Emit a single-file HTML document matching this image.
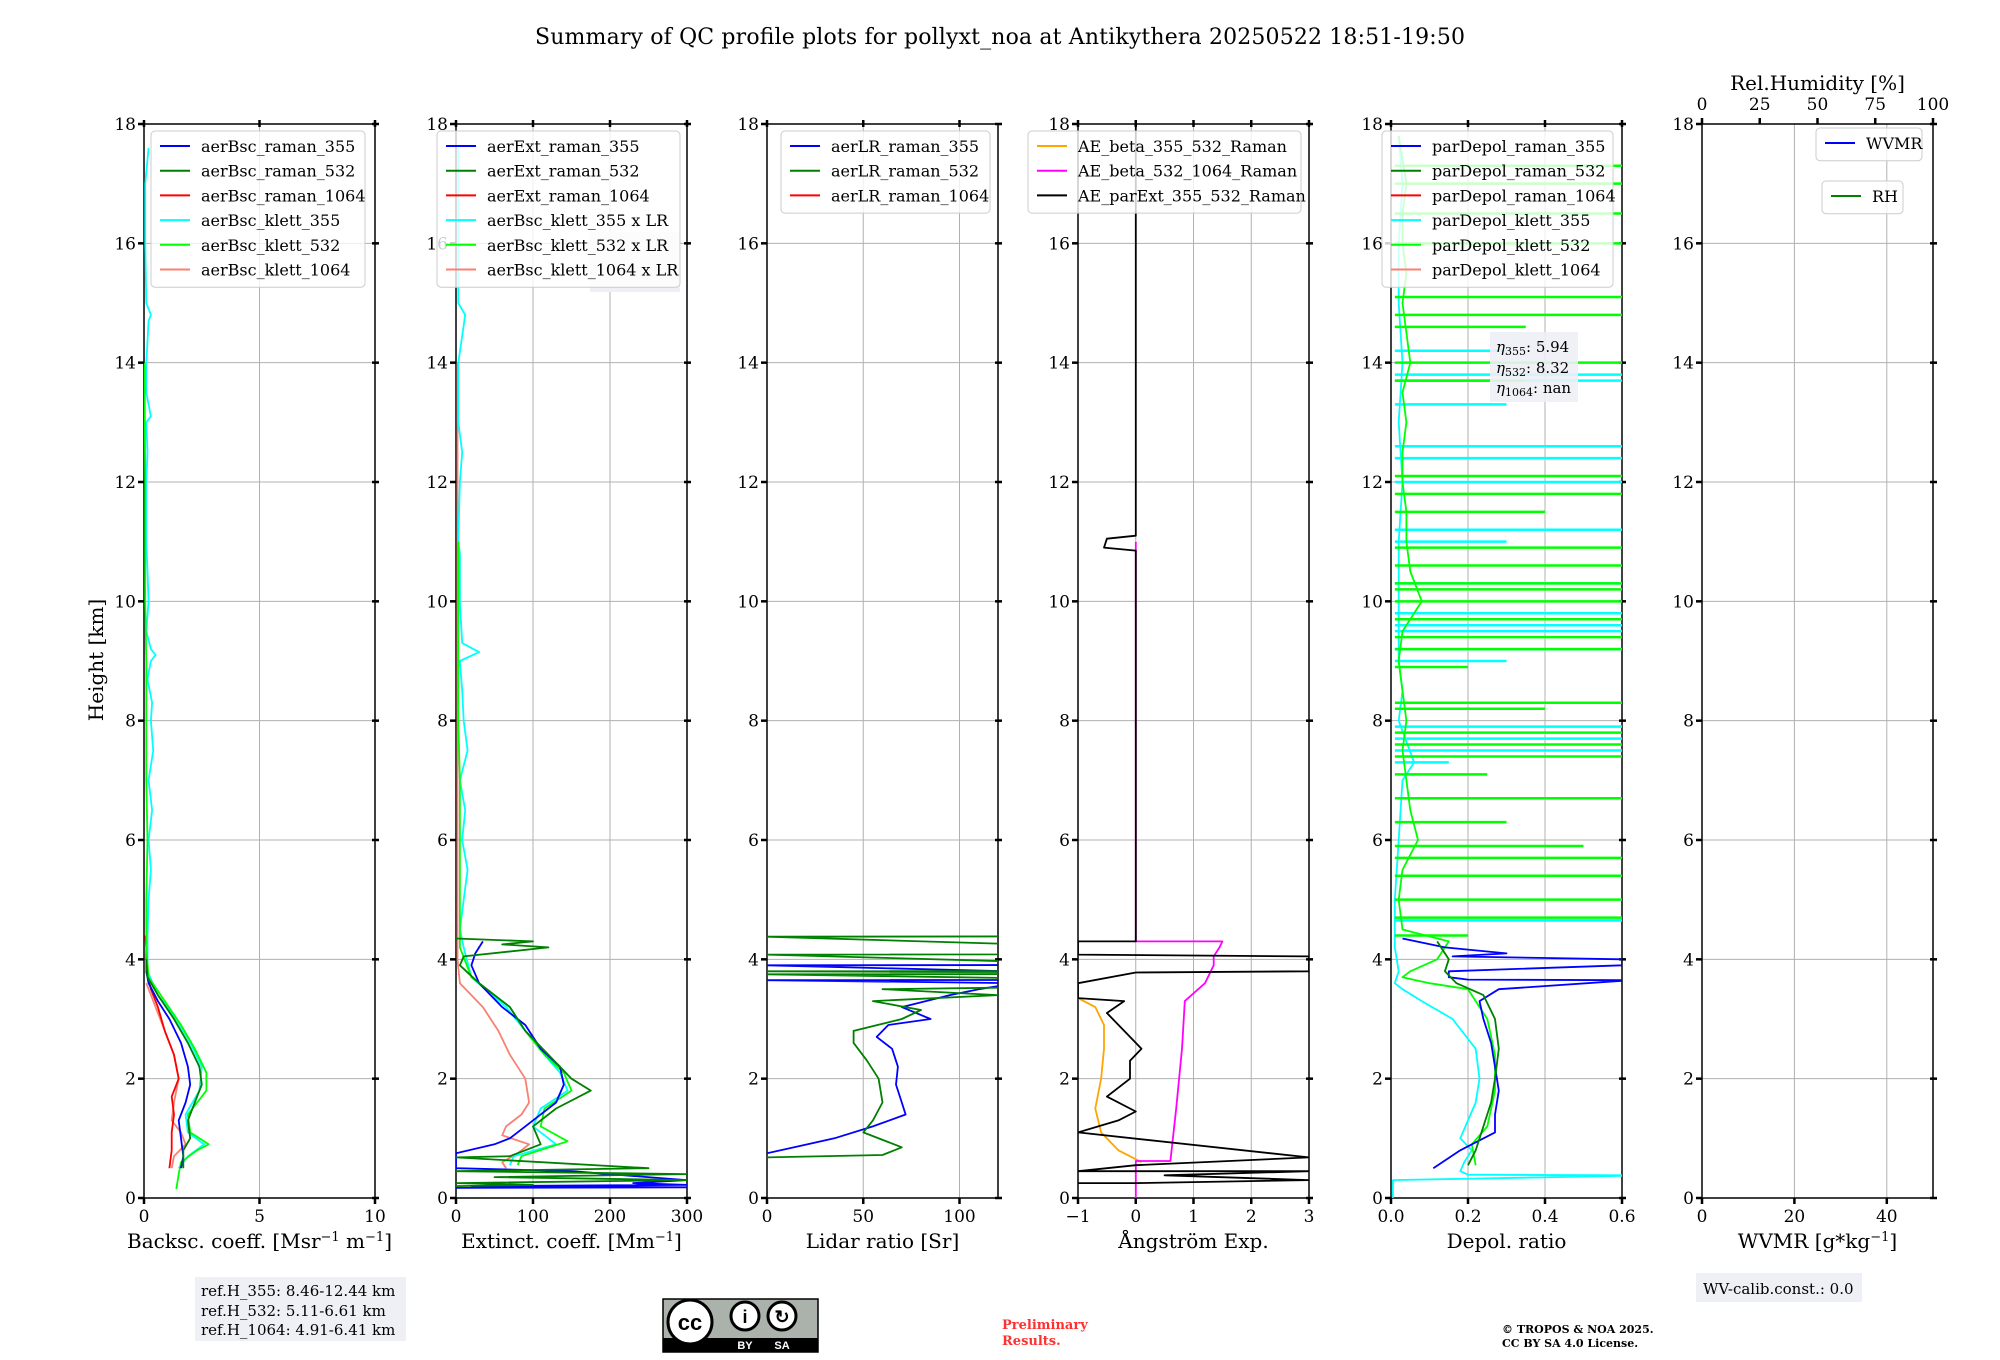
<!DOCTYPE html>
<html><head><meta charset="utf-8">
<style>
html,body{margin:0;padding:0;background:#fff;}
svg{display:block;font-family:"DejaVu Serif","Liberation Serif",serif;}
</style></head>
<body>
<svg id="fig" width="2000" height="1360" viewBox="0 0 2000 1360" xmlns="http://www.w3.org/2000/svg">
<text x="1000" y="44" text-anchor="middle" font-size="22" textLength="930">Summary of QC profile plots for pollyxt_noa at Antikythera 20250522 18:51-19:50</text>
<text transform="translate(103,660) rotate(-90)" text-anchor="middle" font-size="20">Height [km]</text>
<g id="panels"></g>
<rect x="195" y="1277" width="211" height="64" fill="#eef0f5"/>
<text font-size="15"><tspan x="201" y="1296">ref.H_355: 8.46-12.44 km</tspan><tspan x="201" y="1316">ref.H_532: 5.11-6.61 km</tspan><tspan x="201" y="1335">ref.H_1064: 4.91-6.41 km</tspan></text>
<g>
<rect x="663" y="1299" width="155" height="53" fill="#aab2ab" stroke="#000" stroke-width="1.5"/>
<rect x="663" y="1338" width="155" height="14" fill="#000"/>
<circle cx="690" cy="1322" r="22" fill="#fff" stroke="#000" stroke-width="3"/>
<text x="690" y="1330" text-anchor="middle" font-size="22" font-weight="bold" font-family="Liberation Sans,sans-serif">cc</text>
<circle cx="745" cy="1316" r="14" fill="#fff" stroke="#000" stroke-width="3"/>
<circle cx="782" cy="1316" r="14" fill="#fff" stroke="#000" stroke-width="3"/>
<text x="745" y="1323" text-anchor="middle" font-size="18" font-weight="bold" font-family="Liberation Sans,sans-serif">i</text>
<text x="782" y="1323" text-anchor="middle" font-size="18" font-weight="bold" font-family="Liberation Sans,sans-serif">↻</text>
<text x="745" y="1349" text-anchor="middle" font-size="11" fill="#fff" font-weight="bold" font-family="Liberation Sans,sans-serif">BY</text>
<text x="782" y="1349" text-anchor="middle" font-size="11" fill="#fff" font-weight="bold" font-family="Liberation Sans,sans-serif">SA</text>
</g>
<text font-size="13" font-weight="bold" fill="#ff3030"><tspan x="1002" y="1329">Preliminary</tspan><tspan x="1002" y="1345">Results.</tspan></text>
<text font-size="11" font-weight="bold"><tspan x="1502" y="1333">© TROPOS &amp; NOA 2025.</tspan><tspan x="1502" y="1347">CC BY SA 4.0 License.</tspan></text>
<rect x="1696" y="1273" width="166" height="29" fill="#eef0f5"/>
<text x="1703" y="1294" font-size="15">WV-calib.const.: 0.0</text>
</svg>
<script>
// ---------- data ----------
const bscR355H=[0.5,0.7,1.0,1.3,1.6,1.9,2.2,2.6,3.0,3.3,3.6,3.8];
const bscR355V=[1.6,1.7,1.6,1.5,1.8,2.0,1.9,1.6,1.1,0.6,0.2,0.1];
const bscR532H=[0.5,0.8,1.0,1.3,1.6,1.9,2.2,2.6,3.0,3.4,3.7,4.0];
const bscR532V=[1.7,1.7,2.0,1.9,2.2,2.5,2.4,1.9,1.3,0.6,0.15,0.1];
const bscR1064H=[0.5,0.8,1.1,1.4,1.7,2.0,2.4,2.8,3.2,3.5,3.8,4.2,4.4];
const bscR1064V=[1.1,1.2,1.2,1.3,1.2,1.5,1.3,0.9,0.6,0.3,0.1,0.1,0.05];
const bscK355H=[0.5,0.7,0.9,1.1,1.4,1.8,2.2,2.6,3.0,3.4,3.8,4.4,5,5.5,6,6.5,7,7.5,8,8.3,8.7,9.0,9.1,9.2,9.5,10,10.5,11,12,12.5,13,13.1,13.5,14,14.7,14.8,15,16,17,17.6];
const bscK355V=[1.5,1.9,2.6,1.9,1.8,2.4,2.5,2.0,1.4,0.6,0.15,0.15,0.2,0.3,0.2,0.35,0.2,0.4,0.3,0.35,0.15,0.3,0.5,0.3,0.1,0.2,0.15,0.1,0.1,0.15,0.1,0.3,0.1,0.1,0.2,0.3,0.1,0.05,0.05,0.2];
const bscK532H=[0.15,0.4,0.6,0.8,0.9,1.1,1.4,1.8,2.1,2.5,2.9,3.3,3.7,4.2,5,6,7,8,9,10,11,12,14];
const bscK532V=[1.4,1.5,1.6,2.3,2.8,2.0,1.9,2.7,2.7,2.2,1.6,0.9,0.2,0.1,0.1,0.15,0.1,0.1,0.1,0.05,0.05,0.05,0.02];
const bscK1064H=[0.5,0.7,0.9,1.1,1.3,1.6,2.0,2.4,2.8,3.2,3.6];
const bscK1064V=[1.2,1.3,1.8,1.6,1.2,1.3,1.5,1.3,0.9,0.5,0.1];
const extR355H=[0.17,0.18,0.2,0.22,0.25,0.3,0.45,0.5,0.6,0.75,0.9,1.0,1.3,1.6,1.9,2.2,2.5,2.9,3.2,3.6,3.9,4.1,4.3];
const extR355V=[0,300,20,300,230,300,150,0,0,0,50,70,100,130,140,135,110,90,60,30,20,25,35];
const extR532H=[0.2,0.22,0.25,0.3,0.35,0.4,0.45,0.5,0.68,0.7,0.9,1.2,1.5,1.8,2.0,2.4,2.8,3.2,3.6,3.9,4.05,4.2,4.25,4.3,4.35];
const extR532V=[0,100,0,300,50,300,0,250,0,70,110,100,130,175,150,120,90,70,30,5,10,120,60,100,0];
const extK355H=[0.55,0.7,0.9,1.2,1.5,1.8,2.1,2.4,2.8,3.2,3.7,4.2,4.5,5,5.5,6,6.5,7,7.5,8,8.5,9,9.15,9.3,10,10.8,11,12,12.5,13,14,14.8,15,17.6];
const extK355V=[70,75,130,100,110,145,135,115,90,65,20,10,5,10,15,8,12,5,15,10,8,5,30,8,5,5,3,5,8,3,3,12,3,3];
const extK532H=[0.55,0.7,0.95,1.2,1.5,1.8,2.1,2.4,2.8,3.2,3.7,4.2,5,6,7,8,9,10,11];
const extK532V=[80,85,145,110,115,150,140,115,90,70,20,5,5,5,5,3,3,3,3];
const extK1064H=[0.5,0.6,0.75,0.9,1.05,1.2,1.4,1.6,2.0,2.4,2.8,3.2,3.6,4.0,12,14];
const extK1064V=[65,60,80,95,60,65,85,95,90,70,55,35,5,2,2,2];
const lrR355H=[0.75,1.0,1.2,1.4,1.6,1.9,2.2,2.5,2.7,2.9,3.0,3.2,3.4,3.5,3.6,3.65,3.66,3.9,3.91];
const lrR355V=[0,35,55,72,70,67,68,65,57,63,85,70,95,110,130,0,300,0,300];
const lrR532H=[0.68,0.72,0.85,1.1,1.3,1.6,2.0,2.3,2.6,2.8,3.0,3.15,3.3,3.4,3.5,3.6,3.75,3.76,3.8,3.81,4.08,4.09,4.38,4.39];
const lrR532V=[0,60,70,50,55,60,58,52,45,45,70,80,55,120,60,300,0,300,0,300,0,300,0,300];
const aeB355H=[0.6,0.8,1.1,1.5,2.0,2.5,2.9,3.2,3.35];
const aeB355V=[0.1,-0.3,-0.6,-0.7,-0.6,-0.55,-0.55,-0.7,-1.0];
const aeB532H=[0.0,0.62,0.62,1.5,2.5,3.3,3.6,3.9,4.05,4.2,4.3,4.3,10.95,11.0];
const aeB532V=[0,0,0.6,0.7,0.8,0.85,1.2,1.35,1.35,1.45,1.5,0,0,0];
const aeParH=[0.25,0.25,0.3,0.38,0.45,0.45,0.55,0.68,1.1,1.3,1.45,1.7,2.0,2.3,2.5,2.8,3.1,3.3,3.35,3.6,3.78,3.8,4.05,4.08,4.3,4.3,10.85,10.9,11.05,11.1,18];
const aeParV=[-1,0,3,0.5,3,-1,0,3,-1,-0.3,0,-0.5,-0.1,-0.1,0.1,-0.2,-0.5,-0.2,-1,-1,0,3,3,-1,-1,0,0,-0.55,-0.5,0,0];
const dpR355H=[0.5,0.8,1.1,1.4,1.8,2.2,2.6,3.0,3.3,3.5,3.64,3.65,3.66,3.7,3.8,3.9,3.95,4.0,4.05,4.1,4.2,4.35];
const dpR355V=[0.11,0.18,0.27,0.27,0.28,0.27,0.26,0.24,0.23,0.28,0.6,0.6,0.2,0.15,0.15,0.6,0.6,0.6,0.16,0.3,0.14,0.03];
const dpR532H=[0.55,0.8,1.2,1.6,2.0,2.5,3.0,3.4,3.6,3.8,4.0,4.2,4.3];
const dpR532V=[0.2,0.22,0.24,0.26,0.27,0.28,0.27,0.24,0.17,0.14,0.15,0.13,0.12];
const dpK355H=[0,0.3,0.37,0.38,0.39,0.45,0.6,0.8,1.0,1.3,1.6,2.0,2.5,3.0,3.3,3.5,3.6,3.8,4.2,5,6,7,7.3,8,8.5,9,10,11,12,13,14,15,16,17,17.8];
const dpK355V=[0.005,0.005,0.6,0.6,0.2,0.18,0.19,0.21,0.18,0.2,0.22,0.23,0.22,0.16,0.08,0.03,0.01,0.02,0.01,0.01,0.02,0.03,0.06,0.02,0.03,0.02,0.02,0.02,0.03,0.02,0.03,0.02,0.02,0.03,0.02];
const dpK355SpikeH=[4.65,7.3,7.5,7.7,7.9,9.0,9.2,9.5,9.6,9.8,10.3,11.0,11.2,12.0,12.4,12.6,13.3,13.7,13.8,14.2];
const dpK355SpikeV=[0.6,0.15,0.6,0.6,0.6,0.3,0.6,0.6,0.6,0.6,0.6,0.3,0.6,0.6,0.6,0.6,0.3,0.6,0.6,0.3];
const dpK532H=[0.55,0.9,1.2,1.8,2.4,3.0,3.5,3.6,3.7,3.8,4.0,4.3,4.5,5,5.5,6,6.5,7,7.5,8,8.5,9,9.5,10,10.5,11,11.5,12,12.5,13,13.5,14,14.5,15,15.5,16,16.5,17,17.8];
const dpK532V=[0.22,0.21,0.25,0.27,0.27,0.25,0.2,0.1,0.03,0.05,0.12,0.15,0.03,0.02,0.03,0.07,0.05,0.04,0.03,0.04,0.03,0.02,0.03,0.08,0.05,0.04,0.04,0.03,0.03,0.04,0.03,0.05,0.04,0.03,0.04,0.03,0.03,0.04,0.02];
const dpK532SpikeH=[4.4,4.7,5.0,5.4,5.7,5.9,6.3,6.7,7.1,7.4,7.6,7.8,8.2,8.3,8.9,9.2,9.4,9.7,10.0,10.2,10.3,10.6,10.9,11.5,11.8,12.1,13.7,14.0,14.6,14.8,15.1,16.0,16.5,17.0,17.3];
const dpK532SpikeV=[0.2,0.6,0.6,0.6,0.6,0.5,0.3,0.6,0.25,0.6,0.6,0.6,0.4,0.6,0.2,0.6,0.6,0.6,0.6,0.6,0.6,0.6,0.6,0.4,0.6,0.6,0.35,0.6,0.35,0.6,0.6,0.6,0.6,0.6,0.6];
const yTicks=[0,2,4,6,8,10,12,14,16,18];
const p1Ticks=[0,5,10], p2Ticks=[0,100,200,300], p3Ticks=[0,50,100], p4Ticks=[-1,0,1,2,3], p5Ticks=[0,0.2,0.4,0.6], p6Ticks=[0,20,40], rhTicks=[0,25,50,75,100];
const p5TickLabels=["0.0","0.2","0.4","0.6"];

// ---------- drawing ----------
const NS="http://www.w3.org/2000/svg";
const Y0=1198, Y18=124;
function ys(h){return Y0-(h/18)*(Y0-Y18);}
const root=document.getElementById('panels');
function mk(tag,attrs,parent){const e=document.createElementNS(NS,tag);for(const k in attrs)e.setAttribute(k,attrs[k]);(parent||root).appendChild(e);return e;}
const panels=[
 {id:'p1',left:144,min:0,max:10,ticks:p1Ticks},
 {id:'p2',left:456,min:0,max:300,ticks:p2Ticks},
 {id:'p3',left:767,min:0,max:120,ticks:p3Ticks},
 {id:'p4',left:1078,min:-1,max:3,ticks:p4Ticks},
 {id:'p5',left:1391,min:0,max:0.6,ticks:p5Ticks},
 {id:'p6',left:1702,min:0,max:50,ticks:p6Ticks}
];
const W=231;
function xs(p,v){return p.left+(v-p.min)/(p.max-p.min)*W;}
function axes(p,xlabelFn,tickText){
  const g=mk('g',{});
  
  
  const cp=mk('clipPath',{id:'clip-'+p.id},g);
  mk('rect',{x:p.left,y:Y18,width:W,height:Y0-Y18},cp);
  yTicks.forEach(t=>{
    const y=ys(t);
    mk('line',{x1:p.left,x2:p.left+W,y1:y,y2:y,stroke:'#b0b0b0','stroke-width':1},g);
    mk('line',{x1:p.left-6,x2:p.left,y1:y,y2:y,stroke:'#000','stroke-width':2.5},g);
    mk('line',{x1:p.left+W-3,x2:p.left+W+4,y1:y,y2:y,stroke:'#000','stroke-width':2.5},g);
    const tl=mk('text',{x:p.left-8,y:y+6,'text-anchor':'end','font-size':17},g);
    tl.textContent=String(t);
    
    
  });
  p.ticks.forEach((t,i)=>{
    const x=xs(p,t);
    mk('line',{x1:x,x2:x,y1:Y18,y2:Y0,stroke:'#b0b0b0','stroke-width':1},g);
    mk('line',{x1:x,x2:x,y1:Y0,y2:Y0+6,stroke:'#000','stroke-width':2.5},g);
    if(p.id!=='p6')mk('line',{x1:x,x2:x,y1:Y18-4,y2:Y18+3,stroke:'#000','stroke-width':2.5},g);
    const tl=mk('text',{x:x,y:Y0+24,'text-anchor':'middle','font-size':17},g);
    tl.textContent=tickText?tickText[i]:String(t).replace('-','\u2212');
    
    
  });
  mk('rect',{x:p.left,y:Y18,width:W,height:Y0-Y18,fill:'none',stroke:'#000','stroke-width':1.5},g);
  xlabelFn(g);
  return g;
}
function series(p,H,V,color,name,width){
  const pts=H.map((h,i)=>xs(p,V[i]).toFixed(1)+','+ys(h).toFixed(1)).join(' ');
  const pl=mk('polyline',{points:pts,fill:'none',stroke:color,'stroke-width':width||1.8,'clip-path':'url(#clip-'+p.id+')','stroke-linejoin':'round'});
  
  
}
function spikes(p,H,V,color,name){
  H.forEach((h,i)=>{
    const y=ys(h);
    const l=mk('line',{x1:xs(p,0.01),x2:xs(p,V[i]),y1:y,y2:y,stroke:color,'stroke-width':2.5,'clip-path':'url(#clip-'+p.id+')'});
    
    
  });
}
function legend(x,y,w,entries,name){
  const g=mk('g',{});
  
  
  const rowH=24.7;
  mk('rect',{x:x,y:y,width:w,height:entries.length*rowH+8,rx:4,fill:'rgba(255,255,255,0.8)',stroke:'#ccc','stroke-width':1},g);
  entries.forEach((e,i)=>{
    const cy=y+15+i*rowH;
    mk('line',{x1:x+9,x2:x+39,y1:cy,y2:cy,stroke:e[1],'stroke-width':2},g);
    const t=mk('text',{x:x+50,y:cy+6,'font-size':16},g);
    t.textContent=e[0];
    
    
  });
}
function xlab(p,txt,sup1,mid,sup2,tail){
  return g=>{
    const t=mk('text',{x:p.left+W/2,y:Y0+50,'text-anchor':'middle','font-size':20},g);
    
    
    t.appendChild(document.createTextNode(txt));
    if(sup1){const s=mk('tspan',{'baseline-shift':'super','font-size':13},t);s.textContent=sup1;
      const m=mk('tspan',{'baseline-shift':'0'},t);m.textContent=mid||'';
      if(sup2){const s2=mk('tspan',{'baseline-shift':'super','font-size':13},t);s2.textContent=sup2;}
      const tl=mk('tspan',{},t);tl.textContent=tail||'';}
  };
}
const [P1,P2,P3,P4,P5,P6]=panels;
axes(P1,xlab(P1,'Backsc. coeff. [Msr','\u22121',' m','\u22121',']'));
axes(P2,xlab(P2,'Extinct. coeff. [Mm','\u22121','',null,']'));
axes(P3,xlab(P3,'Lidar ratio [Sr]'));
axes(P4,xlab(P4,'\u00c5ngstr\u00f6m Exp.'));
axes(P5,xlab(P5,'Depol. ratio'),p5TickLabels);
axes(P6,xlab(P6,'WVMR [g*kg','\u22121','',null,']'));
rhTicks.forEach(t=>{
  const x=P6.left+t/100*W;
  mk('line',{x1:x,x2:x,y1:Y18-6,y2:Y18,stroke:'#000','stroke-width':2.5});
  const tl=mk('text',{x:x,y:Y18-14,'text-anchor':'middle','font-size':17});
  tl.textContent=String(t);
  
  
});
const rht=mk('text',{x:P6.left+W/2,y:Y18-34,'text-anchor':'middle','font-size':20});
rht.textContent='Rel.Humidity [%]';



series(P1,bscK1064H,bscK1064V,'#fa8072','bsc-klett-1064');
series(P1,bscR1064H,bscR1064V,'#ff0000','bsc-raman-1064');
series(P1,bscK355H,bscK355V,'#00ffff','bsc-klett-355');
series(P1,bscK532H,bscK532V,'#00ff00','bsc-klett-532');
series(P1,bscR355H,bscR355V,'#0000ff','bsc-raman-355');
series(P1,bscR532H,bscR532V,'#008000','bsc-raman-532');
legend(151,131,214,[['aerBsc_raman_355','#0000ff'],['aerBsc_raman_532','#008000'],['aerBsc_raman_1064','#ff0000'],['aerBsc_klett_355','#00ffff'],['aerBsc_klett_532','#00ff00'],['aerBsc_klett_1064','#fa8072']],'p1-legend');

const lrBox=mk('rect',{x:590,y:232,width:90,height:60,fill:'#eef0f5'});


series(P2,extK1064H,extK1064V,'#fa8072','ext-klett-1064');
series(P2,extK355H,extK355V,'#00ffff','ext-klett-355');
series(P2,extK532H,extK532V,'#00ff00','ext-klett-532');
series(P2,extR355H,extR355V,'#0000ff','ext-raman-355');
series(P2,extR532H,extR532V,'#008000','ext-raman-532');
legend(437,131,243,[['aerExt_raman_355','#0000ff'],['aerExt_raman_532','#008000'],['aerExt_raman_1064','#ff0000'],['aerBsc_klett_355 x LR','#00ffff'],['aerBsc_klett_532 x LR','#00ff00'],['aerBsc_klett_1064 x LR','#fa8072']],'p2-legend');

series(P3,lrR355H,lrR355V,'#0000ff','lr-raman-355');
series(P3,lrR532H,lrR532V,'#008000','lr-raman-532');
legend(781,131,209,[['aerLR_raman_355','#0000ff'],['aerLR_raman_532','#008000'],['aerLR_raman_1064','#ff0000']],'p3-legend');

series(P4,aeB355H,aeB355V,'#ffa500','ae-beta-355-532');
series(P4,aeB532H,aeB532V,'#ff00ff','ae-beta-532-1064');
series(P4,aeParH,aeParV,'#000000','ae-parext-355-532');
legend(1028,131,273,[['AE_beta_355_532_Raman','#ffa500'],['AE_beta_532_1064_Raman','#ff00ff'],['AE_parExt_355_532_Raman','#000000']],'p4-legend');

series(P5,dpK355H,dpK355V,'#00ffff','depol-klett-355');
spikes(P5,dpK355SpikeH,dpK355SpikeV,'#00ffff','depol-klett-355-spike');
series(P5,dpK532H,dpK532V,'#00ff00','depol-klett-532');
spikes(P5,dpK532SpikeH,dpK532SpikeV,'#00ff00','depol-klett-532-spike');
series(P5,dpR355H,dpR355V,'#0000ff','depol-raman-355');
series(P5,dpR532H,dpR532V,'#008000','depol-raman-532');
legend(1382,131,231,[['parDepol_raman_355','#0000ff'],['parDepol_raman_532','#008000'],['parDepol_raman_1064','#ff0000'],['parDepol_klett_355','#00ffff'],['parDepol_klett_532','#00ff00'],['parDepol_klett_1064','#fa8072']],'p5-legend');
const eb=mk('rect',{x:1490,y:332,width:88,height:70,fill:'#eef0f5',opacity:0.9});


const et=mk('text',{'font-size':15});


[['355','5.94',352],['532','8.32',373],['1064','nan',393]].forEach(r=>{
  const a=mk('tspan',{x:1496,y:r[2],'font-style':'italic'},et);a.textContent='\u03b7';
  const b=mk('tspan',{'font-size':11,dy:3},et);b.textContent=r[0];
  const c=mk('tspan',{dy:-3},et);c.textContent=': '+r[1];
});
legend(1816,128,106,[['WVMR','#0000ff']],'wvmr-legend');
legend(1822,181,81,[['RH','#008000']],'rh-legend');
</script>
</body></html>
